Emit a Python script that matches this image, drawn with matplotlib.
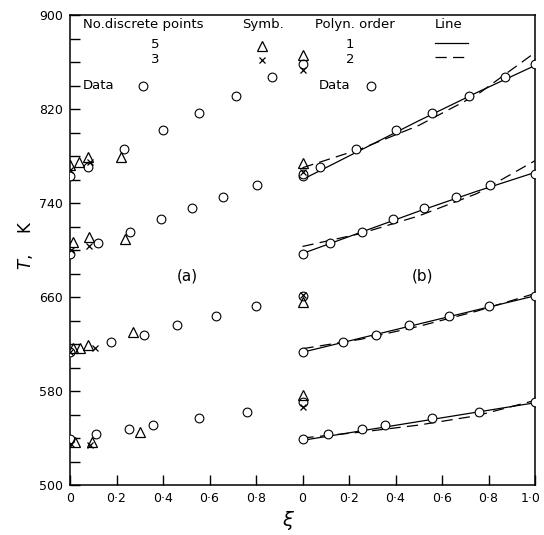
import matplotlib
matplotlib.use('Agg')
import matplotlib.pyplot as plt
import matplotlib.transforms as mtransforms

# measured data (same points shown in panel a and panel b)
xi_1 = [0, 0.077, 0.232, 0.40, 0.555, 0.714, 0.87, 1.0]
T_1 = [763, 771, 786, 802, 817, 831, 847, 858]
xi_2 = [0, 0.12, 0.258, 0.39, 0.524, 0.66, 0.805, 1.0]
T_2 = [697, 706, 715, 726, 736, 745, 755, 765]
xi_3 = [0, 0.175, 0.318, 0.46, 0.63, 0.80, 1.0]
T_3 = [613, 622, 628, 636, 644, 652, 661]
xi_4 = [0, 0.11, 0.255, 0.355, 0.555, 0.76, 1.0]
T_4 = [539, 543, 548, 551, 557, 562, 571]

# panel (a): 5-point (triangles) and 3-point (crosses) approximations
tri_xi = [0, 0.04, 0.077, 0.22, 1.0,
          0.013, 0.082, 0.237, 1.0,
          0.015, 0.045, 0.077, 0.27, 1.0,
          0.02, 0.094, 0.30, 1.0]
tri_T = [772, 775, 779, 779, 866,
         707, 711, 709, 774,
         617, 617, 619, 630, 656,
         537, 537, 545, 577]
x_xi = [0, 0.086, 1.0, 0.005, 0.082, 1.0, 0, 0.107, 1.0, 0.005, 0.086, 1.0]
x_T = [768, 775, 853, 700, 703, 766, 613, 617, 662, 535, 534, 566]

# panel (b): polynomial fits
fit_xi = [0, 0.25, 0.5, 0.75, 1.0]
order1 = [[760, 785, 810, 834, 857],
          [697, 715, 733, 750, 766],
          [613, 625, 637, 649, 661],
          [538, 546, 554, 562, 570]]
order2 = [[770, 786, 806, 832, 868],
          [703, 714, 729, 748, 776],
          [616, 624, 635, 648, 663],
          [540, 545, 551, 559, 572]]

offset = 1.0  # panel (b) is drawn to the right of panel (a)

plt.rcParams['font.family'] = 'DejaVu Sans'
fig = plt.figure(figsize=(5.44, 5.35), dpi=100)
ax = fig.add_axes([70 / 544, 50 / 535, 465 / 544, 470 / 535])

circ = dict(marker='o', ms=6.3, mfc='white', mec='black', mew=0.8, ls='none', zorder=3)
for xs, ts in [(xi_1, T_1), (xi_2, T_2), (xi_3, T_3), (xi_4, T_4)]:
    ax.plot(xs, ts, **circ)
    ax.plot([x + offset for x in xs], ts, **circ)

ax.plot(tri_xi, tri_T, marker='^', ms=7.5, mfc='none', mec='black', mew=0.9,
        ls='none', zorder=4)
ax.plot(x_xi, x_T, marker='x', ms=4, mec='black', mew=0.9, ls='none', zorder=4)

dash = (0, (9, 5))
fx = [x + offset for x in fit_xi]
for a, b in zip(order1, order2):
    ax.plot(fx, a, color='black', lw=0.9, zorder=2)
    ax.plot(fx, b, color='black', lw=0.9, ls=dash, zorder=2)

ax.set_xlim(0, 2.0)
ax.set_ylim(500, 900)
xt = [0, 0.2, 0.4, 0.6, 0.8, 1.0, 1.2, 1.4, 1.6, 1.8, 2.0]
ax.set_xticks(xt)
ax.set_xticklabels(['0', '0·2', '0·4', '0·6', '0·8', '0', '0·2', '0·4', '0·6', '0·8', '1·0'])
ax.set_yticks(range(500, 901, 80))
ax.set_yticks(range(500, 901, 20), minor=True)
ax.tick_params(axis='both', which='major', direction='in', length=7, width=1,
               labelsize=9, pad=5)
ax.tick_params(axis='y', which='minor', direction='in', length=7, width=1)
for s in ax.spines.values():
    s.set_linewidth(1.1)

# keep the last tick label inside the figure
last = ax.get_xticklabels()[-1]
last.set_horizontalalignment('right')
last.set_transform(last.get_transform() +
                   mtransforms.ScaledTranslation(6 / 100, 0, fig.dpi_scale_trans))

# key at the top
kw = dict(transform=ax.transAxes, fontsize=9.5, va='center')
ax.text(0.028, 0.979, 'No.discrete points', **kw)
ax.text(0.37, 0.979, 'Symb.', **kw)
ax.text(0.527, 0.979, 'Polyn. order', **kw)
ax.text(0.785, 0.979, 'Line', **kw)
ax.text(0.183, 0.938, '5', ha='center', **kw)
ax.text(0.183, 0.906, '3', ha='center', **kw)
ax.text(0.602, 0.938, '1', ha='center', **kw)
ax.text(0.602, 0.906, '2', ha='center', **kw)
ax.plot([0.413], [0.934], transform=ax.transAxes, marker='^', ms=7.5, mfc='none',
        mec='black', mew=0.9, ls='none')
ax.plot([0.413], [0.905], transform=ax.transAxes, marker='x', ms=4, mec='black',
        mew=0.9, ls='none')
ax.plot([0.785, 0.855], [0.940, 0.940], transform=ax.transAxes, color='black', lw=0.9)
ax.plot([0.785, 0.855], [0.910, 0.910], transform=ax.transAxes, color='black', lw=0.9,
        ls=dash)
ax.text(0.028, 0.849, 'Data', **kw)
ax.text(0.535, 0.849, 'Data', **kw)
ax.plot([0.157], [0.849], transform=ax.transAxes, marker='o', ms=6.3, mfc='white',
        mec='black', mew=0.8)
ax.plot([0.647], [0.849], transform=ax.transAxes, marker='o', ms=6.3, mfc='white',
        mec='black', mew=0.8)

ax.text(0.252, 0.445, '(a)', transform=ax.transAxes, fontsize=11, ha='center', va='center')
ax.text(0.757, 0.445, '(b)', transform=ax.transAxes, fontsize=11, ha='center', va='center')

ax.text(-0.095, 0.51, '$T$,    K', transform=ax.transAxes, fontsize=12, rotation=90,
        ha='center', va='center')
ax.text(0.469, -0.05, r'$\xi$', transform=ax.transAxes, fontsize=14, ha='center',
        va='top')

fig.savefig('out.png', dpi=100)
plt.close()
